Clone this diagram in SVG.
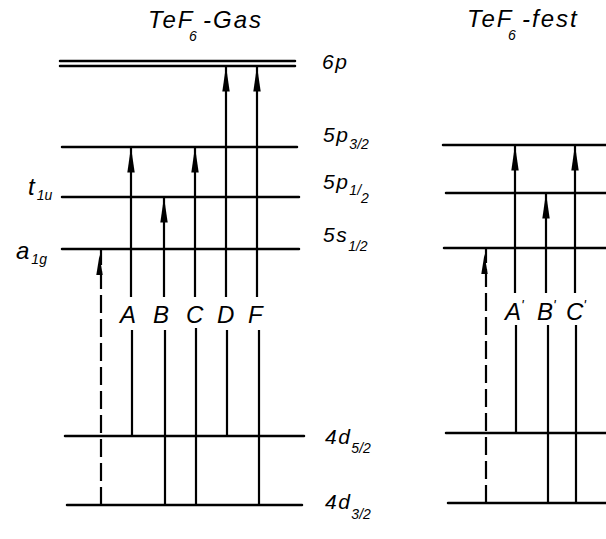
<svg xmlns="http://www.w3.org/2000/svg" width="606" height="539" viewBox="0 0 606 539">
<style>
.lv{stroke:#000;stroke-width:2.5;fill:none;stroke-linecap:round}
.tr{stroke:#000;stroke-width:2.2;fill:none}
.ds{stroke:#000;stroke-width:2.2;fill:none;stroke-dasharray:18 6}
text{font-family:"Liberation Sans","DejaVu Sans",sans-serif;font-style:italic;fill:#000}
.t{font-size:24px;letter-spacing:2px}
.lb{font-size:24px}
.lvl{font-size:21px;letter-spacing:1.5px}
.sub{font-size:14px;letter-spacing:0}
.head{fill:#000}
</style>
<defs>
<marker id="ah" markerUnits="userSpaceOnUse" markerWidth="30" markerHeight="10" viewBox="-24 -4 26 8" refX="0" refY="0" orient="auto" overflow="visible">
<path d="M0,0 L-22,-3.2 L-22,3.2 z" fill="#000"/>
</marker>
</defs>

<g id="title-gas"><text class="t" x="148" y="28">TeF</text><text class="sub" x="189" y="41">6</text><text class="t" x="203" y="28">-Gas</text></g>
<g id="title-fest"><text class="t" x="467" y="27">TeF</text><text class="sub" x="508" y="40">6</text><text class="t" x="522" y="27">-fest</text></g>

<g id="gas-levels">
<g id="g-6p"><line class="lv" x1="60" y1="61" x2="295" y2="61"/><line class="lv" x1="60" y1="66" x2="295" y2="66"/><text class="lvl" x="322" y="69">6p</text></g>
<g id="g-5p32"><line class="lv" x1="62" y1="147" x2="297" y2="147"/><text class="lvl" x="323" y="142">5p<tspan class="sub" dy="7">3/2</tspan></text></g>
<g id="g-5p12"><line class="lv" x1="62" y1="197" x2="299" y2="197"/><text class="lvl" x="323" y="189">5p<tspan class="sub" dy="6">1/</tspan><tspan class="sub" dy="8">2</tspan></text><text class="t" x="28" y="195">t<tspan class="sub" dy="5">1u</tspan></text></g>
<g id="g-5s12"><line class="lv" x1="62" y1="249" x2="299" y2="249"/><text class="lvl" x="323" y="242">5s<tspan class="sub" dy="9">1/2</tspan></text><text class="t" x="16" y="259">a<tspan class="sub" dy="5">1g</tspan></text></g>
<g id="g-4d52"><line class="lv" x1="65" y1="436" x2="304" y2="436"/><text class="lvl" x="325" y="444">4d<tspan class="sub" dy="9">5/2</tspan></text></g>
<g id="g-4d32"><line class="lv" x1="67" y1="505" x2="302" y2="505"/><text class="lvl" x="325" y="509">4d<tspan class="sub" dy="10">3/2</tspan></text></g>
</g>

<g id="fest-levels">
<g id="f-5p32"><line class="lv" x1="443" y1="145" x2="606" y2="145"/></g>
<g id="f-5p12"><line class="lv" x1="446" y1="193" x2="606" y2="193"/></g>
<g id="f-5s12"><line class="lv" x1="444" y1="248" x2="606" y2="248"/></g>
<g id="f-4d52"><line class="lv" x1="446" y1="433" x2="606" y2="433"/></g>
<g id="f-4d32"><line class="lv" x1="448" y1="503" x2="606" y2="503"/></g>
</g>

<g id="connectors">
<path class="ds" d="M101,505 V249"/>
<path class="head" d="M99.5,255 L96.3,275 L102.7,275 z"/>
<path class="tr" d="M132,436 V330 M131,297 V147" marker-end="url(#ah)"/>
<path class="tr" d="M165,505 V330 M164,297 V197" marker-end="url(#ah)"/>
<path class="tr" d="M196,505 V328 M195,297 V147" marker-end="url(#ah)"/>
<path class="tr" d="M227,436 V330 M226,297 V66" marker-end="url(#ah)"/>
<path class="tr" d="M259,505 V330 M257,297 V66" marker-end="url(#ah)"/>

<path class="ds" d="M486,503 V248"/>
<path class="head" d="M484.5,254 L481.3,274 L487.7,274 z"/>
<path class="tr" d="M516,433 V325 M515,293 V145" marker-end="url(#ah)"/>
<path class="tr" d="M548,503 V325 M546,293 V193" marker-end="url(#ah)"/>
<path class="tr" d="M576,503 V325 M575,293 V145" marker-end="url(#ah)"/>
</g>

<g id="labels">
<text class="lb" x="120" y="323">A</text>
<text class="lb" x="153" y="323">B</text>
<text class="lb" x="186" y="323">C</text>
<text class="lb" x="217" y="323">D</text>
<text class="lb" x="248" y="323">F</text>
<text class="lb" x="505" y="320">A<tspan class="sub" dy="-10">'</tspan></text>
<text class="lb" x="537" y="320">B<tspan class="sub" dy="-10">'</tspan></text>
<text class="lb" x="566" y="320">C<tspan class="sub" dy="-10">'</tspan></text>
</g>
</svg>
